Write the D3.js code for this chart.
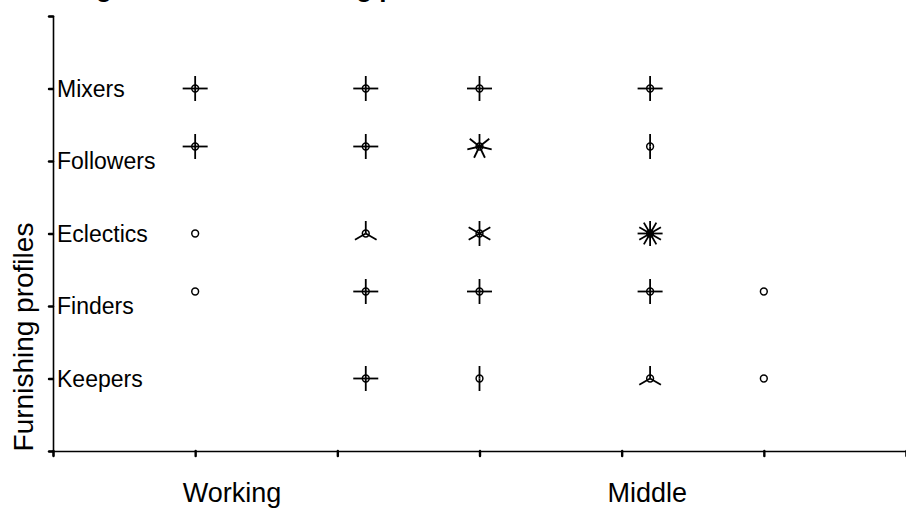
<!DOCTYPE html>
<html>
<head>
<meta charset="utf-8">
<script src="https://cdn.jsdelivr.net/npm/d3@7/dist/d3.min.js"></script>
<style>
  html, body { margin: 0; padding: 0; background: #fff; }
  svg { display: block; font-family: "Liberation Sans", Arial, sans-serif; }
</style>
</head>
<body>
<svg id="chart" width="906" height="509"></svg>
<script>
// Sunflower plot: furnishing profile by social class.
// Each point is a circle; a cell with n > 1 observations gets n petals.
const title = "Housing class and furnishing profiles";
const profileLabels = ["Keepers", "Finders", "Eclectics", "Followers", "Mixers"];
const profileTicks = [1, 2, 3, 4, 5];
const classLabels = ["Working", "Middle"];
const classLabelPos = [1.26, 4.18];

// Observations (class position, profile position, count)
const pointClass   = [1, 2.2, 3, 4.2,   1, 2.2, 3, 4.2,   1, 2.2, 3, 4.2,   1, 2.2, 3, 4.2, 5,   2.2, 3, 4.2, 5];
const pointProfile = [5, 5, 5, 5,   4.2, 4.2, 4.2, 4.2,   3, 3, 3, 3,   2.2, 2.2, 2.2, 2.2, 2.2,   1, 1, 1, 1];
const pointCount   = [4, 4, 4, 4,   4, 4, 7, 2,   1, 3, 6, 12,   1, 4, 4, 4, 1,   4, 2, 3, 1];

const svg = d3.select("#chart");
const margin = { left: 53, right: 0, top: 16, bottom: 58 };
const W = 906, H = 509;

const x = d3.scaleLinear().domain([0, 6]).range([margin.left, W - margin.right]);
const y = d3.scaleLinear().domain([0, 6]).range([H - margin.bottom, margin.top]);

// Title (sits mostly above the drawing area)
svg.append("text")
  .attr("x", 8).attr("y", -3)
  .attr("font-size", 26).attr("font-weight", "bold")
  .attr("fill", "#000")
  .text(title);

// X axis: ticks only, class names placed separately
const xAxis = svg.append("g")
  .attr("transform", `translate(0,${y(0)})`)
  .call(d3.axisBottom(x).tickValues(d3.range(0, 7)).tickSize(5).tickFormat(""));
xAxis.select(".domain").attr("stroke", "#000").attr("stroke-width", 1.6);
xAxis.selectAll(".tick line").attr("stroke", "#000").attr("stroke-width", 2.4).attr("stroke-linecap", "round");

svg.append("g").selectAll("text")
  .data(classLabels)
  .join("text")
  .attr("x", (d, i) => x(classLabelPos[i]))
  .attr("y", 502)
  .attr("text-anchor", "middle")
  .attr("font-size", 27)
  .attr("fill", "#000")
  .text(d => d);

// Y axis: ticks pointing left, profile names inside the plot area
const yAxis = svg.append("g")
  .attr("transform", `translate(${x(0)},0)`)
  .call(d3.axisLeft(y).tickValues(d3.range(0, 7)).tickSize(4).tickFormat(""));
yAxis.select(".domain").attr("stroke", "#000").attr("stroke-width", 1.6);
yAxis.selectAll(".tick line").attr("stroke", "#000").attr("stroke-width", 2.4).attr("stroke-linecap", "round");

svg.append("g").selectAll("text")
  .data(profileLabels)
  .join("text")
  .attr("x", x(0) + 4)
  .attr("y", (d, i) => y(profileTicks[i]))
  .attr("dy", "0.36em")
  .attr("font-size", 23)
  .attr("fill", "#000")
  .text(d => d);

// Y axis title
svg.append("text")
  .attr("transform", `translate(33,${337}) rotate(-90)`)
  .attr("text-anchor", "middle")
  .attr("font-size", 28)
  .attr("fill", "#000")
  .text("Furnishing profiles");

// Sunflowers
const petalLen = 12.5;
const flowers = svg.append("g");
pointClass.forEach((cx, i) => {
  const px = x(cx), py = y(pointProfile[i]), n = pointCount[i];
  const g = flowers.append("g");
  if (n > 1) {
    d3.range(1, n + 1).forEach(k => {
      const a = 2 * Math.PI * k / n;
      g.append("line")
        .attr("x1", px).attr("y1", py)
        .attr("x2", px + petalLen * Math.sin(a))
        .attr("y2", py - petalLen * Math.cos(a))
        .attr("stroke", "#000").attr("stroke-width", 1.8);
    });
  }
  g.append("circle")
    .attr("cx", px).attr("cy", py).attr("r", 3.4)
    .attr("fill", "none").attr("stroke", "#000").attr("stroke-width", 1.5);
});
</script>
</body>
</html>
